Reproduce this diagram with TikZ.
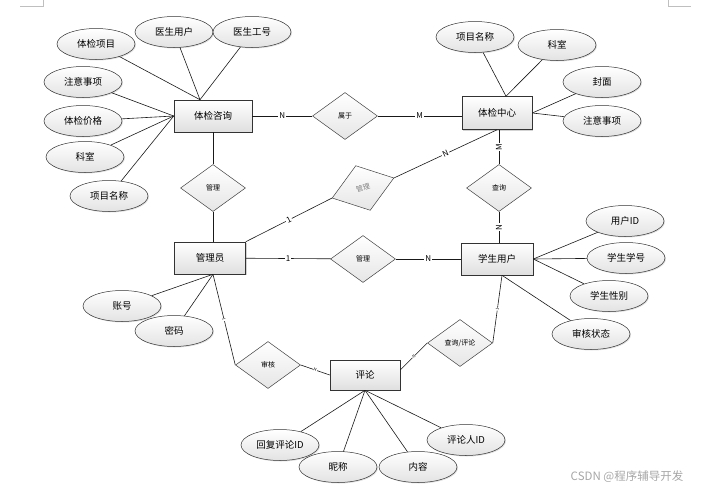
\documentclass[tikz,border=0pt]{standalone}
\usepackage{fontspec}
\setmainfont{Noto Sans CJK SC}
\usepackage{tikz}
\usetikzlibrary{shapes.geometric,shadows,positioning}

\begin{document}
\begin{tikzpicture}[x=1pt,y=-1pt,
        entity/.style={draw=gray!40!black,line width=0.6pt,top color=white,bottom color=gray!25,
            drop shadow={shadow xshift=1.2pt,shadow yshift=-1.2pt,opacity=0.35},
            minimum width=71pt,minimum height=32pt,inner sep=0pt,font=\fontsize{9.5}{11}\selectfont},
        attr/.style={ellipse,draw=gray!40!black,line width=0.5pt,top color=white,bottom color=gray!22,
            drop shadow={shadow xshift=1pt,shadow yshift=-1pt,opacity=0.25},
            minimum width=78pt,minimum height=31pt,inner sep=0pt,font=\fontsize{9.5}{11}\selectfont},
        rel/.style={diamond,draw=gray!50!black,line width=0.5pt,top color=white,bottom color=gray!20,
            minimum width=65pt,minimum height=47pt,inner sep=0pt,font=\fontsize{7}{8}\selectfont},
        link/.style={draw=gray!20!black,line width=0.6pt},
        card/.style={fill=white,inner sep=1pt,font=\fontsize{8}{9}\selectfont},
        tick/.style={fill=white,inner sep=0.3pt,font=\fontsize{4}{4}\selectfont,sloped}]
    \useasboundingbox (0,0) rectangle (702,490);
    \draw[gray!50] (20,6) -- (43,6) -- (43,0);
    \draw[gray!50] (668,0) -- (668,6) -- (691,6);

    \node[entity,minimum width=78pt] (consult) at (213,116) {体检咨询};
    \node[entity,minimum width=70pt,minimum height=33pt] (center) at (497,113) {体检中心};
    \node[entity] (admin) at (210,258) {管理员};
    \node[entity,minimum width=72pt] (student) at (497,259) {学生用户};
    \node[entity,minimum width=70pt,minimum height=30pt] (comment) at (365,375) {评论};

    \node[attr] (c-item) at (96,44) {体检项目};
    \node[attr] (c-doc) at (174,32) {医生用户};
    \node[attr] (c-docno) at (252,32) {医生工号};
    \node[attr] (c-note) at (83,82) {注意事项};
    \node[attr] (c-price) at (83,121) {体检价格};
    \node[attr] (c-dept) at (85,157) {科室};
    \node[attr] (c-name) at (109,196) {项目名称};

    \node[attr] (h-name) at (475,37) {项目名称};
    \node[attr] (h-dept) at (557,45) {科室};
    \node[attr] (h-cover) at (602,82) {封面};
    \node[attr] (h-note) at (602,121) {注意事项};

    \node[attr] (s-id) at (625,221) {用户ID};
    \node[attr] (s-no) at (626,258) {学生学号};
    \node[attr] (s-sex) at (609,296) {学生性别};
    \node[attr] (s-state) at (591,334) {审核状态};

    \node[attr] (a-acc) at (122,306) {账号};
    \node[attr] (a-pwd) at (174,331) {密码};

    \node[attr] (r-reply) at (280,445) {回复评论ID};
    \node[attr] (r-nick) at (338,467) {昵称};
    \node[attr] (r-text) at (418,467) {内容};
    \node[attr] (r-user) at (466,440) {评论人ID};

    \node[rel] (belong) at (345,116) {属于};
    \node[rel] (manage1) at (213,188) {管理};
    \node[rel,rotate=18,text=gray] (manage2) at (363,188) {管理};
    \node[rel] (query) at (499,188) {查询};
    \node[rel] (manage3) at (363,259) {管理};
    \node[rel] (audit) at (268,365) {审核};
    \node[rel] (review) at (460,343) {查询/评论};

    \foreach \a in {c-item,c-doc,c-docno}
        \draw[link] (\a) -- ([xshift=-13pt]consult.north);
    \foreach \a in {c-note,c-price,c-dept,c-name}
        \draw[link] (\a) -- (consult.west);
    \foreach \a in {h-name,h-dept}
        \draw[link] (\a) -- ([xshift=9pt]center.north);
    \foreach \a in {h-cover,h-note}
        \draw[link] (\a) -- (center.east);
    \foreach \a in {s-id,s-no,s-sex}
        \draw[link] (\a) -- (student.east);
    \draw[link] (s-state) -- ([xshift=5pt]student.south);
    \foreach \a in {a-acc,a-pwd}
        \draw[link] (\a) -- ([xshift=3pt]admin.south);
    \foreach \a in {r-reply,r-nick,r-text,r-user}
        \draw[link] (\a) -- (comment.south);

    \draw[link] (consult) -- node[card]{N} (belong);
    \draw[link] (belong) -- node[card]{M} (belong -| center.west);
    \draw[link] (query |- center.south) -- node[card,rotate=90]{M} (query);
    \draw[link] (query) -- node[card,rotate=90]{N} (query |- student.north);
    \draw[link] (consult) -- (manage1);
    \draw[link] (manage1) -- (manage1 |- admin.north);
    \draw[link] (admin.north east) -- node[card,sloped]{1} (manage2.west);
    \draw[link] (manage2.east) -- node[card,sloped]{N} (center.south);
    \draw[link] (admin) -- node[card]{1} (manage3);
    \draw[link] (manage3) -- node[card]{N} (student);
    \draw[link] ([xshift=3pt]admin.south) -- node[tick]{1} (audit.west);
    \draw[link] (audit.east) -- node[tick]{N} (comment.west);
    \draw[link] ([yshift=5pt]comment.east) -- node[tick]{N} (review.west);
    \draw[link] (review.east) -- node[tick]{1} ([xshift=5pt]student.south);

    \node[text=gray!70,font=\fontsize{11.5}{13}\selectfont] (mark) at (627,477) {CSDN @程序辅导开发};
\end{tikzpicture}
\end{document}
